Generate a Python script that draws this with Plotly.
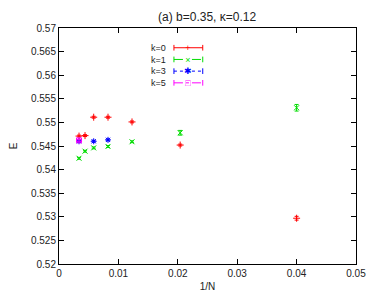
import plotly.graph_objects as go

# ---- data ----
x_k0 = [0.00337, 0.00438, 0.00584, 0.00825, 0.01229, 0.0204, 0.0400]
e_k0 = [0.5471, 0.5472, 0.5511, 0.5511, 0.5501, 0.5452, 0.5297]
err_k0 = [0.0002, 0.0002, 0.0002, 0.0002, 0.0002, 0.0002, 0.0004]

x_k1 = [0.00337, 0.00438, 0.00584, 0.00825, 0.01229, 0.0204, 0.0400]
e_k1 = [0.5424, 0.5439, 0.5446, 0.5449, 0.5459, 0.5478, 0.5531]
err_k1 = [0.0002, 0.0002, 0.0002, 0.0002, 0.0002, 0.0005, 0.0007]

x_k3 = [0.00337, 0.00584, 0.00825]
e_k3 = [0.5460, 0.5460, 0.5463]
err_k3 = [0.0002, 0.0002, 0.0002]

x_k5 = [0.00337]
e_k5 = [0.5462]
err_k5 = [0.0002]

labels = ["k=0", "k=1", "k=3", "k=5"]
colors = ["#ff0000", "#00dd00", "#0000ff", "#ff00ff"]
symbols = ["cross-thin-open", "x-thin-open", "asterisk-open", "square-open"]
glyphs = ["+", "×", "✱", "□"]
dashes = ["solid", "dash", "dot", "dashdot"]

xt_vals = [0, 0.01, 0.02, 0.03, 0.04, 0.05]
xt_text = ["0", "0.01", "0.02", "0.03", "0.04", "0.05"]
yt_vals = [0.52, 0.525, 0.53, 0.535, 0.54, 0.545, 0.55, 0.555, 0.56, 0.565, 0.57]
yt_text = ["0.52", "0.525", "0.53", "0.535", "0.54", "0.545", "0.55", "0.555", "0.56", "0.565", "0.57"]

series = [(x_k0, e_k0, err_k0), (x_k1, e_k1, err_k1), (x_k3, e_k3, err_k3), (x_k5, e_k5, err_k5)]

fig = go.Figure()
for (xs, ys, es), lab, col, sym in zip(series, labels, colors, symbols):
    fig.add_trace(go.Scatter(
        x=xs, y=ys, mode="markers", name=lab, showlegend=False,
        marker=dict(symbol=sym, size=5, color=col, line=dict(color=col, width=1)),
        error_y=dict(type="data", array=es, visible=True, color=col, thickness=1, width=2),
    ))

# manual gnuplot-style key (text on the left, sample on the right)
plot_h = 236.0
fs = 9
line_px = 1.3 * fs
key_center = 0.842          # paper y of key centre
row_y = [key_center + (1.5 - i) * line_px / plot_h for i in range(4)]
x_text, x0, x1, xm = 0.367, 0.387, 0.484, 0.435

annotations = [
    dict(x=x_text, y=key_center, xref="paper", yref="paper", text="<br>".join(labels),
         showarrow=False, xanchor="right", yanchor="middle", align="right",
         font=dict(size=fs, color="#222222")),
    dict(x=xm, y=key_center, xref="paper", yref="paper",
         text="<br>".join(f"<span style='color:{c}'>{g}</span>" for c, g in zip(colors, glyphs)),
         showarrow=False, xanchor="center", yanchor="middle", align="center",
         font=dict(size=fs, color="#222222")),
]
shapes = []
for col, d, ky in zip(colors, dashes, row_y):
    shapes.append(dict(type="line", xref="paper", yref="paper", x0=x0, x1=x1, y0=ky, y1=ky,
                       line=dict(color=col, width=1, dash=d)))
    for xe in (x0, x1):
        shapes.append(dict(type="line", xref="paper", yref="paper", x0=xe, x1=xe,
                           y0=ky - 0.012, y1=ky + 0.012, line=dict(color=col, width=1)))

# the page body adds an 8px offset, so the figure is sized to fit the window
fig.update_layout(
    width=366, height=288, autosize=False,
    margin=dict(l=51, r=18, t=20, b=32),
    paper_bgcolor="white", plot_bgcolor="white",
    font=dict(family="Liberation Sans, Arial, sans-serif", size=10, color="#222222"),
    title=dict(text="(a) b=0.35, κ=0.12", x=0.544, xanchor="center", y=0.97, yanchor="middle",
               pad=dict(t=0, b=0), font=dict(size=12, color="#222222")),
    shapes=shapes, annotations=annotations,
)
fig.update_xaxes(range=[0, 0.05], tickvals=xt_vals, ticktext=xt_text, automargin=False,
                 showgrid=False, zeroline=False, showline=True, linecolor="black", linewidth=1,
                 mirror="allticks", ticks="inside", ticklen=5, tickcolor="black",
                 title=dict(text="1/N", standoff=4, font=dict(size=10)))
fig.update_yaxes(range=[0.52, 0.57], tickvals=yt_vals, ticktext=yt_text, automargin=False,
                 showgrid=False, zeroline=False, showline=True, linecolor="black", linewidth=1,
                 mirror="allticks", ticks="inside", ticklen=5, tickcolor="black",
                 title=dict(text="E", standoff=14, font=dict(size=10)))

fig.write_html("out.html")
